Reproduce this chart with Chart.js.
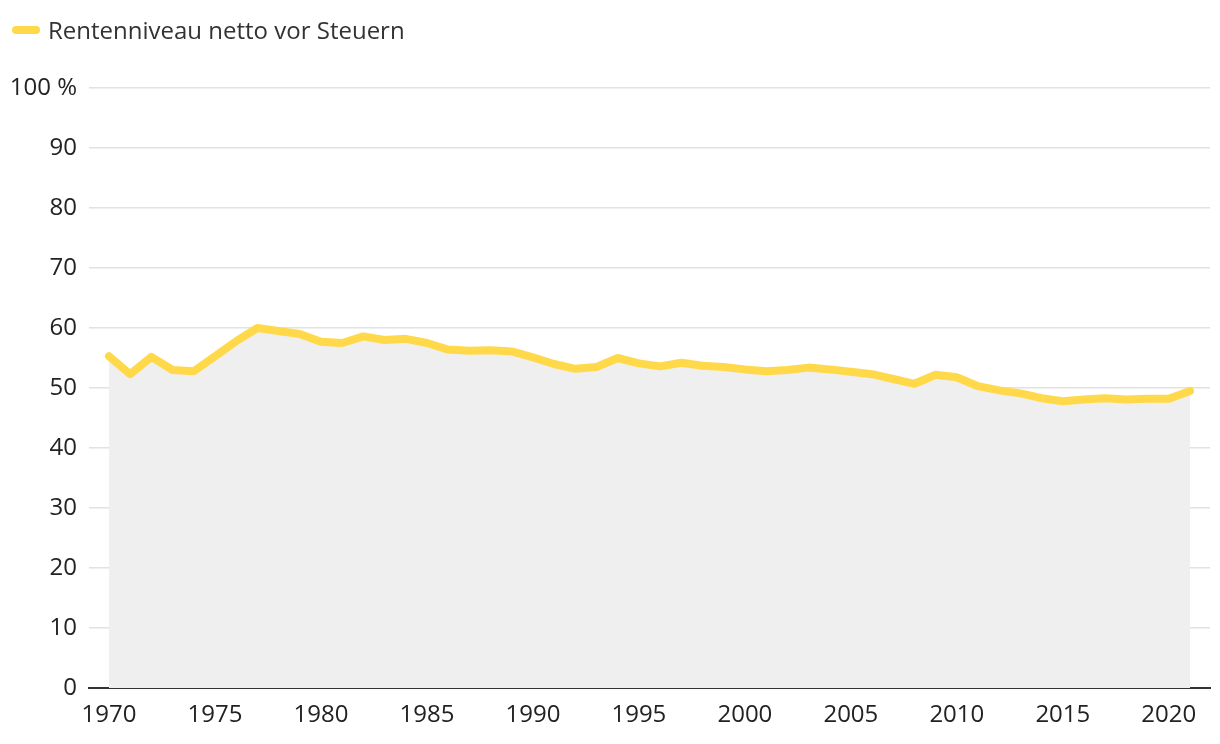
<!DOCTYPE html>
<html>
<head>
<meta charset="utf-8">
<script src="https://cdn.jsdelivr.net/npm/chart.js@4/dist/chart.umd.min.js"></script>
<style>
  html, body { margin: 0; padding: 0; background: #fff; }
  #wrap { position: relative; width: 1220px; height: 744px; }
  #legend { position: absolute; left: 12px; top: 13px; font-family: "Open Sans", sans-serif; font-size: 24px; color: #333; display: flex; align-items: center; }
  #legend .mk { display: inline-block; width: 28px; height: 8px; border-radius: 4px; background: #FFD94A; margin-right: 8px; }
  canvas { position: absolute; left: 0; top: 0; }
</style>
</head>
<body>
<div id="wrap">
  <canvas id="c" width="1220" height="744"></canvas>
  <div id="legend"><span class="mk"></span><span id="legendText"></span></div>
</div>
<script>
const seriesName = "Rentenniveau netto vor Steuern";
const years = [];
for (let y = 1970; y <= 2021; y++) years.push(y);
const values = [
  55.3, 52.3, 55.2, 53.0, 52.8, 55.3, 57.8, 60.0, 59.5, 59.0,
  57.7, 57.5, 58.6, 58.0, 58.2, 57.5, 56.4, 56.2, 56.3, 56.1,
  55.1, 54.0, 53.2, 53.5, 55.0, 54.1, 53.6, 54.2, 53.7, 53.5,
  53.1, 52.8, 53.0, 53.4, 53.1, 52.7, 52.3, 51.5, 50.7, 52.2,
  51.8, 50.3, 49.6, 49.1, 48.3, 47.8, 48.1, 48.3, 48.1, 48.2,
  48.2, 49.5
];
const yTicks = [0, 10, 20, 30, 40, 50, 60, 70, 80, 90, 100];
const xTickYears = [1970, 1975, 1980, 1985, 1990, 1995, 2000, 2005, 2010, 2015, 2020];

document.getElementById('legendText').textContent = seriesName;

const pxPerYear = (1190 - 109) / (years[years.length - 1] - years[0]);
const inset = 20 / pxPerYear;

new Chart(document.getElementById('c'), {
  type: 'line',
  data: {
    datasets: [{
      label: seriesName,
      data: years.map((y, i) => ({ x: y, y: values[i] })),
      borderColor: '#FFD94A',
      backgroundColor: '#efefef',
      borderWidth: 8,
      borderJoinStyle: 'round',
      borderCapStyle: 'round',
      pointRadius: 0,
      tension: 0,
      fill: 'origin'
    }]
  },
  options: {
    responsive: false,
    animation: false,
    devicePixelRatio: 1,
    layout: { padding: { top: 88, right: 10, left: 0, bottom: 0 } },
    plugins: { legend: { display: false }, tooltip: { enabled: false } },
    scales: {
      x: {
        type: 'linear',
        min: years[0] - inset,
        max: years[years.length - 1] + inset,
        afterBuildTicks: s => { s.ticks = xTickYears.map(v => ({ value: v })); },
        afterFit: s => { s.height = 56; },
        grid: { display: false, drawTicks: false },
        border: { display: true, color: '#333', width: 2 },
        ticks: {
          callback: v => String(v),
          font: { family: '"Open Sans", sans-serif', size: 24 },
          color: '#222',
          padding: 13,
          maxRotation: 0,
          autoSkip: false
        }
      },
      y: {
        min: 0,
        max: 100,
        afterBuildTicks: s => { s.ticks = yTicks.map(v => ({ value: v })); },
        afterFit: s => { s.width = 89; },
        grid: { color: '#e2e2e2', lineWidth: 1.5, drawTicks: false },
        border: { display: false },
        ticks: {
          callback: v => v === 100 ? '100 %' : String(v),
          font: { family: '"Open Sans", sans-serif', size: 24 },
          color: '#222',
          padding: 12
        }
      }
    }
  }
});
</script>
</body>
</html>
